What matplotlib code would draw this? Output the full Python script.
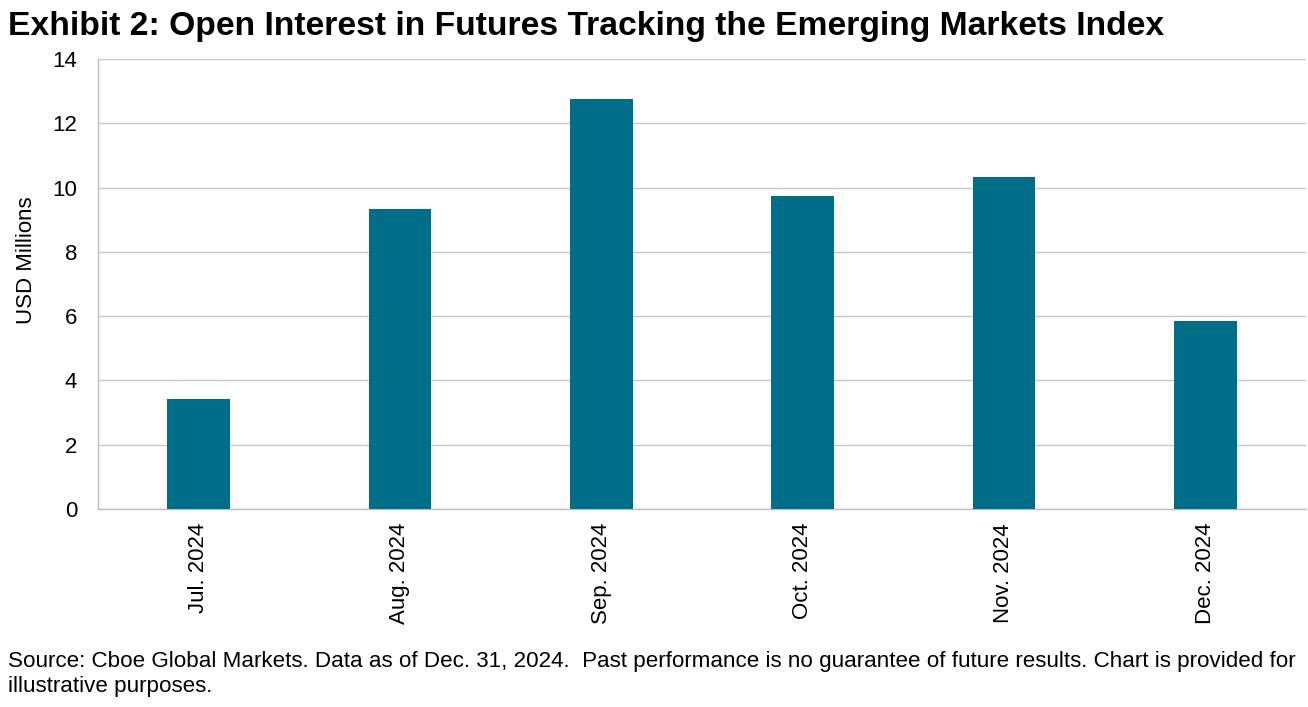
import numpy as np
from matplotlib import pyplot as plt

plt.rcParams['font.family'] = ['Liberation Sans', 'DejaVu Sans']

months = ['Jul. 2024', 'Aug. 2024', 'Sep. 2024', 'Oct. 2024', 'Nov. 2024', 'Dec. 2024']
open_interest = [3.42, 9.33, 12.76, 9.74, 10.33, 5.85]

fig = plt.figure(figsize=(13.08, 7.07), dpi=100)
ax = fig.add_axes([98 / 1308, 1 - 509 / 707, 1208 / 1308, 450 / 707])

x = np.arange(len(months))
ax.bar(x, open_interest, width=0.31, color='#006E89', zorder=3)

ax.set_xlim(-0.5, len(months) - 0.5)
ax.set_ylim(0, 14)
ax.set_yticks(np.arange(0, 15, 2))
ax.set_xticks(x)
ax.set_xticklabels(months, rotation=90)
ax.tick_params(axis='both', length=0, labelsize=16, colors='black')
ax.tick_params(axis='y', pad=15)
ax.tick_params(axis='x', pad=10)

ax.grid(axis='y', color='#c8c8c8', linewidth=1, zorder=0)
for side in ['top', 'right']:
    ax.spines[side].set_visible(False)
for side in ['left', 'bottom']:
    ax.spines[side].set_color('#c0c0c0')
    ax.spines[side].set_linewidth(1)

ax.set_ylabel('USD Millions', fontsize=16)
ax.yaxis.set_label_coords(-0.0505, 0.552)

fig.text(8 / 1308, 1 - 26 / 707, 'Exhibit 2: Open Interest in Futures Tracking the Emerging Markets Index',
         fontsize=24.2, fontweight='bold', va='center', ha='left')
fig.text(8 / 1308, 1 - 674 / 707,
         'Source: Cboe Global Markets. Data as of Dec. 31, 2024.  Past performance is no guarantee of future results. Chart is provided for\nillustrative purposes.',
         fontsize=16.1, va='center', ha='left', linespacing=1.2)

fig.savefig('out.png', dpi=100)
